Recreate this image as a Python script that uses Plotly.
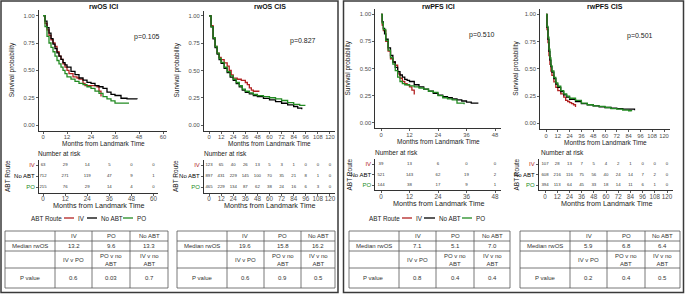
import plotly.graph_objects as go

W, H = 685, 294
RED, BLACK, GREEN = "#B22222", "#000000", "#228B22"
FONT = "Liberation Sans, Arial, sans-serif"

groups = ["IV", "No ABT", "PO"]
group_colors = [RED, BLACK, GREEN]

# ---------------- Kaplan-Meier curves ----------------
os_ici_iv_t = [0, 1, 2, 3, 4, 5, 6, 7, 8, 9, 10, 11, 12, 13, 15, 17, 18, 20, 21, 24, 27, 28, 29]
os_ici_iv_s = [1.0, 0.93, 0.87, 0.82, 0.78, 0.75, 0.72, 0.67, 0.63, 0.60, 0.56, 0.53, 0.50, 0.47, 0.44, 0.43, 0.42, 0.38, 0.36, 0.36, 0.35, 0.31, 0.26]
os_ici_no_t = [0, 1, 2, 3, 4, 5, 6, 7, 8, 9, 10, 11, 12, 14, 16, 18, 20, 22, 24, 26, 28, 30, 32, 34, 36, 39, 42, 47]
os_ici_no_s = [1.0, 0.95, 0.89, 0.84, 0.79, 0.74, 0.70, 0.66, 0.63, 0.60, 0.57, 0.55, 0.53, 0.49, 0.46, 0.43, 0.41, 0.39, 0.38, 0.36, 0.35, 0.335, 0.30, 0.28, 0.27, 0.245, 0.24, 0.235]
os_ici_po_t = [0, 1, 2, 3, 4, 5, 6, 7, 8, 9, 10, 11, 12, 14, 16, 18, 20, 22, 24, 26, 28, 30, 32, 34, 36, 40, 43]
os_ici_po_s = [1.0, 0.90, 0.81, 0.75, 0.71, 0.67, 0.63, 0.59, 0.56, 0.53, 0.50, 0.47, 0.44, 0.42, 0.40, 0.38, 0.37, 0.35, 0.335, 0.31, 0.29, 0.26, 0.24, 0.22, 0.20, 0.20, 0.20]

os_cis_iv_t = [0, 2, 4, 6, 8, 10, 12, 15, 18, 20, 22, 24, 28, 32, 36, 38, 40, 42, 44, 50]
os_cis_iv_s = [1.0, 0.91, 0.80, 0.72, 0.66, 0.62, 0.60, 0.57, 0.54, 0.50, 0.46, 0.43, 0.42, 0.41, 0.39, 0.37, 0.34, 0.32, 0.31, 0.31]
os_cis_no_t = [0, 2, 4, 6, 8, 10, 12, 15, 18, 21, 24, 27, 30, 33, 36, 40, 44, 48, 54, 60, 66, 72, 78, 84, 88, 92]
os_cis_no_s = [1.0, 0.90, 0.79, 0.71, 0.65, 0.60, 0.565, 0.52, 0.48, 0.44, 0.41, 0.38, 0.35, 0.32, 0.30, 0.285, 0.27, 0.26, 0.245, 0.23, 0.215, 0.20, 0.185, 0.17, 0.155, 0.145]
os_cis_po_t = [0, 2, 4, 6, 8, 10, 12, 15, 18, 21, 24, 27, 30, 33, 36, 40, 44, 48, 54, 60, 66, 72, 78, 84, 90, 95]
os_cis_po_s = [1.0, 0.90, 0.80, 0.72, 0.66, 0.61, 0.575, 0.53, 0.49, 0.45, 0.42, 0.39, 0.36, 0.33, 0.31, 0.295, 0.28, 0.27, 0.26, 0.25, 0.24, 0.225, 0.205, 0.19, 0.18, 0.175]

pfs_ici_iv_t = [0, 0.5, 1, 2, 3, 4, 5, 6, 7, 8, 9, 10, 11, 12, 13, 14]
pfs_ici_iv_s = [1.0, 0.90, 0.85, 0.75, 0.66, 0.59, 0.56, 0.53, 0.45, 0.41, 0.38, 0.36, 0.35, 0.33, 0.30, 0.26]
pfs_ici_no_t = [0, 0.5, 1, 1.5, 2, 3, 4, 5, 6, 7, 8, 9, 10, 11, 12, 14, 16, 18, 20, 22, 24, 26, 28, 30, 32, 34, 36, 38, 41]
pfs_ici_no_s = [1.0, 0.93, 0.87, 0.82, 0.77, 0.69, 0.62, 0.56, 0.51, 0.47, 0.44, 0.42, 0.40, 0.39, 0.38, 0.35, 0.33, 0.31, 0.29, 0.27, 0.255, 0.24, 0.23, 0.22, 0.21, 0.20, 0.19, 0.18, 0.18]
pfs_ici_po_t = [0, 0.5, 1, 2, 3, 4, 5, 6, 7, 8, 9, 10, 12, 14, 16, 18, 20, 22, 24, 26, 28, 30, 32, 35]
pfs_ici_po_s = [1.0, 0.92, 0.86, 0.76, 0.67, 0.60, 0.54, 0.48, 0.42, 0.38, 0.36, 0.35, 0.34, 0.33, 0.32, 0.31, 0.29, 0.28, 0.25, 0.23, 0.22, 0.21, 0.18, 0.17]

pfs_cis_iv_t = [0, 1, 2, 3, 4, 5, 6, 8, 10, 12, 15, 18, 20, 22, 24, 26, 28, 30]
pfs_cis_iv_s = [1.0, 0.86, 0.74, 0.62, 0.54, 0.48, 0.44, 0.38, 0.33, 0.30, 0.27, 0.24, 0.21, 0.20, 0.19, 0.18, 0.17, 0.15]
pfs_cis_no_t = [0, 1, 2, 3, 4, 5, 6, 8, 10, 12, 15, 18, 21, 24, 30, 36, 42, 48, 54, 60, 66, 72, 78, 84, 90]
pfs_cis_no_s = [1.0, 0.88, 0.77, 0.66, 0.58, 0.52, 0.47, 0.41, 0.36, 0.33, 0.29, 0.26, 0.24, 0.22, 0.20, 0.18, 0.17, 0.16, 0.15, 0.145, 0.14, 0.135, 0.13, 0.13, 0.12]
pfs_cis_po_t = [0, 1, 2, 3, 4, 5, 6, 8, 10, 12, 15, 18, 21, 24, 30, 36, 42, 48, 54, 60, 66, 72, 78, 84, 87]
pfs_cis_po_s = [1.0, 0.89, 0.79, 0.68, 0.60, 0.53, 0.48, 0.42, 0.37, 0.34, 0.30, 0.27, 0.25, 0.23, 0.21, 0.185, 0.17, 0.16, 0.155, 0.145, 0.135, 0.13, 0.12, 0.115, 0.11]

# ---------------- Number at risk ----------------
ici_os_times = [0, 12, 24, 36, 48, 60]
os_ici_risk_iv = [63, 29, 14, 5, 0, 0]
os_ici_risk_no = [712, 271, 119, 47, 9, 1]
os_ici_risk_po = [215, 76, 29, 14, 4, 0]

cis_times = [0, 12, 24, 36, 48, 60, 72, 84, 96, 108, 120]
os_cis_risk_iv = [123, 65, 40, 26, 13, 5, 3, 1, 0, 0, 0]
os_cis_risk_no = [897, 431, 229, 145, 100, 70, 35, 21, 8, 1, 0]
os_cis_risk_po = [465, 229, 134, 87, 62, 38, 24, 16, 6, 3, 0]

ici_pfs_times = [0, 12, 24, 36, 48]
pfs_ici_risk_iv = [39, 13, 6, 0, 0]
pfs_ici_risk_no = [521, 143, 62, 19, 2]
pfs_ici_risk_po = [144, 38, 17, 9, 1]

pfs_cis_risk_iv = [107, 28, 13, 7, 5, 4, 2, 1, 0, 0, 0]
pfs_cis_risk_no = [608, 216, 116, 75, 56, 40, 24, 14, 7, 2, 0]
pfs_cis_risk_po = [394, 113, 64, 45, 33, 18, 14, 11, 6, 1, 0]

# ---------------- Summary tables ----------------
table_header = ["", "IV", "PO", "No ABT"]
row_labels = ["Median rwOS", "", "P value"]
comparisons = ["IV v PO", "PO v no<br>ABT", "IV v no<br>ABT"]
median_os_ici = ["13.2", "9.6", "13.3"]
median_os_cis = ["19.6", "15.8", "16.2"]
median_pfs_ici = ["7.1", "5.1", "7.0"]
median_pfs_cis = ["5.9", "6.8", "6.4"]
pval_os_ici = ["0.6", "0.03", "0.7"]
pval_os_cis = ["0.6", "0.9", "0.5"]
pval_pfs_ici = ["0.8", "0.4", "0.4"]
pval_pfs_cis = ["0.2", "0.4", "0.5"]

titles = ["rwOS ICI", "rwOS CIS", "rwPFS ICI", "rwPFS CIS"]
pvalues = ["p=0.105", "p=0.827", "p=0.510", "p=0.501"]


def fx(p):
    return p / W


def fy(p):
    return 1 - p / H


def note(text, x, y, size=7, color="#222", xanchor="center", angle=0, align="center"):
    return dict(text=text, x=fx(x), y=fy(y), xref="paper", yref="paper", showarrow=False,
                xanchor=xanchor, yanchor="middle", textangle=angle, align=align,
                font=dict(size=size, color=color, family=FONT), borderpad=0)


panels = [
    dict(curves=[(os_ici_iv_t, os_ici_iv_s), (os_ici_no_t, os_ici_no_s), (os_ici_po_t, os_ici_po_s)],
         risk=[os_ici_risk_iv, os_ici_risk_no, os_ici_risk_po], rt=ici_os_times,
         xd=(39, 167), yd=(10.2, 130.5), xr=(-2, 62), xt=ici_os_times,
         rxd=(39, 157.6), rxr=(-2.2, 62.2), ryd=(159.5, 192.5),
         ptxt=(147, 37), nar=(37, 153), ylab=12, xlab_y=143, rxlab_y=205, ryl=7,
         med=median_os_ici, pv=pval_os_ici, tcols=[5, 55, 92, 130, 168]),
    dict(curves=[(os_cis_iv_t, os_cis_iv_s), (os_cis_no_t, os_cis_no_s), (os_cis_po_t, os_cis_po_s)],
         risk=[os_cis_risk_iv, os_cis_risk_no, os_cis_risk_po], rt=cis_times,
         xd=(204, 335), yd=(10.5, 130.5), xr=(-5, 125), xt=cis_times,
         rxd=(204, 335), rxr=(-5, 125), ryd=(159.5, 192.5),
         ptxt=(303, 41), nar=(203, 153), ylab=176, xlab_y=143, rxlab_y=205, ryl=175,
         med=median_os_cis, pv=pval_os_cis, tcols=[177, 227, 264, 301, 335]),
    dict(curves=[(pfs_ici_iv_t, pfs_ici_iv_s), (pfs_ici_no_t, pfs_ici_no_s), (pfs_ici_po_t, pfs_ici_po_s)],
         risk=[pfs_ici_risk_iv, pfs_ici_risk_no, pfs_ici_risk_po], rt=ici_pfs_times,
         xd=(375.3, 500.7), yd=(8.9, 128.1), xr=(-2.4, 50.4), xt=ici_pfs_times,
         rxd=(375.3, 500.7), rxr=(-2.4, 50.4), ryd=(158.75, 190.25),
         ptxt=(482, 35), nar=(374, 152), ylab=347, xlab_y=141, rxlab_y=203.5, ryl=349,
         med=median_pfs_ici, pv=pval_pfs_ici, tcols=[349, 399, 436, 474, 510]),
    dict(curves=[(pfs_cis_iv_t, pfs_cis_iv_s), (pfs_cis_no_t, pfs_cis_no_s), (pfs_cis_po_t, pfs_cis_po_s)],
         risk=[pfs_cis_risk_iv, pfs_cis_risk_no, pfs_cis_risk_po], rt=cis_times,
         xd=(540.1, 669.9), yd=(8.85, 128.75), xr=(-6, 126), xt=cis_times,
         rxd=(538.9, 673.1), rxr=(-6, 126), ryd=(158.75, 190.25),
         ptxt=(640, 36), nar=(540, 152), ylab=516, xlab_y=142, rxlab_y=203.5, ryl=516,
         med=median_pfs_cis, pv=pval_pfs_cis, tcols=[520, 570, 607, 645, 680]),
]

fig = go.Figure()
layout = dict(width=W, height=H, margin=dict(l=0, r=0, t=0, b=0), autosize=False,
              paper_bgcolor="white", plot_bgcolor="white", showlegend=False,
              font=dict(family=FONT, color="#222"))
annotations = []
shapes = []

axis_common = dict(showline=True, linecolor="#333333", linewidth=1, ticks="outside", ticklen=2,
                   tickcolor="#333333", tickwidth=0.8, showgrid=False, zeroline=False, tickangle=0,
                   tickfont=dict(size=5.8, color="#4d4d4d", family=FONT), fixedrange=True)

for i, p in enumerate(panels):
    k = 2 * i + 1
    kr = 2 * i + 2
    xa = "xaxis" if k == 1 else f"xaxis{k}"
    ya = "yaxis" if k == 1 else f"yaxis{k}"
    xref = "x" if k == 1 else f"x{k}"
    yref = "y" if k == 1 else f"y{k}"
    layout[xa] = dict(axis_common, domain=[fx(p["xd"][0]), fx(p["xd"][1])], range=list(p["xr"]),
                      tickvals=p["xt"], anchor=yref, ticklabelstandoff=-1)
    layout[ya] = dict(axis_common, domain=[fy(p["yd"][1]), fy(p["yd"][0])], range=[-0.05, 1.05],
                      tickvals=[0, 0.25, 0.5, 0.75, 1.0], tickformat=".2f", anchor=xref)
    for (t, s), c, g in zip(p["curves"], group_colors, groups):
        fig.add_trace(go.Scatter(x=t, y=s, mode="lines", line=dict(color=c, width=1.3, shape="hv"),
                                 name=g, xaxis=xref, yaxis=yref, hoverinfo="skip"))
    # risk table axes
    xra = f"xaxis{kr}"
    yra = f"yaxis{kr}"
    layout[xra] = dict(axis_common, domain=[fx(p["rxd"][0]), fx(p["rxd"][1])], range=list(p["rxr"]),
                       tickvals=p["rt"], anchor=f"y{kr}", ticklabelstandoff=-2,
                       tickfont=dict(size=6.3, color="#4d4d4d", family=FONT))
    layout[yra] = dict(axis_common, domain=[fy(p["ryd"][1]), fy(p["ryd"][0])], range=[0.5, 3.5],
                       tickvals=[3, 2, 1],
                       ticktext=[f'<span style="color:{c}">{g}</span>' for g, c in zip(groups, group_colors)],
                       tickfont=dict(size=6, color="#222", family=FONT), anchor=f"x{kr}")
    for j, (counts, yv) in enumerate(zip(p["risk"], [3, 2, 1])):
        fig.add_trace(go.Scatter(x=p["rt"], y=[yv] * len(p["rt"]), mode="text",
                                 text=[str(v) for v in counts],
                                 textfont=dict(size=4.3, color="#333", family=FONT),
                                 xaxis=f"x{kr}", yaxis=f"y{kr}", hoverinfo="skip"))
    # texts
    cx = (p["xd"][0] + p["xd"][1]) / 2
    annotations.append(note(f"<b>{titles[i]}</b>", cx, 6, size=7, color="#111"))
    annotations.append(note(pvalues[i], p["ptxt"][0], p["ptxt"][1], size=7))
    annotations.append(note("Survival probability", p["ylab"], (p["yd"][0] + p["yd"][1]) / 2,
                            size=6.5, angle=-90))
    annotations.append(note("Months from Landmark Time", cx, p["xlab_y"], size=6.5))
    annotations.append(note("Number at risk", p["nar"][0], p["nar"][1], size=6.5, xanchor="left"))
    rcx = (p["rxd"][0] + p["rxd"][1]) / 2
    annotations.append(note("Months from Landmark Time", rcx, p["rxlab_y"], size=7.2))
    annotations.append(note("ABT Route", p["ryl"], (p["ryd"][0] + p["ryd"][1]) / 2, size=6.5, angle=-90))

    # summary table
    cols = p["tcols"]
    rows = [231, 241, 251, 268, 288]
    for xv in cols:
        shapes.append(dict(type="line", xref="paper", yref="paper", x0=fx(xv), x1=fx(xv),
                           y0=fy(rows[0]), y1=fy(rows[-1]), line=dict(color="#555", width=0.8)))
    for yv in rows:
        shapes.append(dict(type="line", xref="paper", yref="paper", x0=fx(cols[0]), x1=fx(cols[-1]),
                           y0=fy(yv), y1=fy(yv), line=dict(color="#555", width=0.8)))
    cell_rows = [table_header,
                 [row_labels[0]] + p["med"],
                 [row_labels[1]] + comparisons,
                 [row_labels[2]] + p["pv"]]
    for r, row in enumerate(cell_rows):
        ym = (rows[r] + rows[r + 1]) / 2
        for c, txt in enumerate(row):
            if not txt:
                continue
            xm = (cols[c] + cols[c + 1]) / 2
            annotations.append(note(txt, xm, ym, size=6, color="#333"))

# legends
legend_defs = [
    dict(title_x=30, items=[(64, 74, 77), (87, 97, 100), (123, 133, 136)]),
    dict(title_x=368, items=[(402, 412, 415), (424, 435, 438), (462, 472, 475)]),
]
for ld in legend_defs:
    ly = 218
    annotations.append(note("ABT Route", ld["title_x"], ly, size=6.3, xanchor="left"))
    for (a, b, tx), g, c in zip(ld["items"], groups, group_colors):
        shapes.append(dict(type="line", xref="paper", yref="paper", x0=fx(a), x1=fx(b), y0=fy(ly), y1=fy(ly),
                           line=dict(color=c, width=1.3)))
        annotations.append(note(g, tx, ly, size=6.3, xanchor="left"))

# panel borders
for x0, x1 in [(1, 338), (343.5, 683.5)]:
    shapes.append(dict(type="rect", xref="paper", yref="paper", x0=fx(x0), x1=fx(x1), y0=fy(1), y1=fy(292.5),
                       line=dict(color="#3a3a3a", width=1.5), fillcolor="rgba(0,0,0,0)"))

layout["annotations"] = annotations
layout["shapes"] = shapes
fig.update_layout(**layout)
fig.write_html("out.html", config={"displayModeBar": False, "staticPlot": True},
               post_script="document.body.style.margin='0px';document.body.style.padding='0px';"
                           "document.body.style.overflow='hidden';")
